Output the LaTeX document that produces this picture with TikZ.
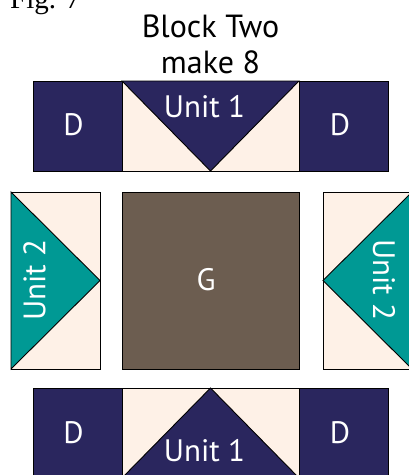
\documentclass[tikz,border=0pt]{standalone}
\usepackage{fontspec}
\setmainfont{PT Sans}
\newfontfamily\figfont{Liberation Serif}
\definecolor{navy}{RGB}{42,38,94}
\definecolor{cream}{RGB}{254,241,231}
\definecolor{teal2}{RGB}{0,153,148}
\definecolor{brownG}{RGB}{108,93,80}
\tikzset{
  patch/.style={draw=black, line width=0.9pt, line join=miter},
  lbl/.style={text=white, font=\fontsize{31}{31}\selectfont, inner sep=0pt},
  title/.style={text=black, font=\fontsize{32}{36}\selectfont, inner sep=0pt, align=center},
}
\begin{document}
\begin{tikzpicture}[x=1pt,y=-1pt]
\path[use as bounding box] (0,0) rectangle (409,475);
% caption
\node[anchor=base west, inner sep=0pt, font=\figfont\fontsize{29}{29}\selectfont] (fig) at (10,8) {Fig. 7};
\node[title, anchor=base] (t1) at (210.5,37) {Block Two};
\node[title, anchor=base] (t2) at (210.5,73) {make 8};
% top strip
\path[patch, fill=navy] (33,81) rectangle (122,171);
\path[patch, fill=cream] (122,81) rectangle (299,171);
\path[patch, fill=navy] (122,81) -- (299,81) -- (210.5,171) -- cycle;
\path[patch, fill=navy] (299,81) rectangle (388,171);
\node[lbl] (d1) at (73.5,124.5) {D};
\node[lbl] (u1) at (204.5,107) {Unit 1};
\node[lbl] (d2) at (340,124.5) {D};
% middle row
\path[patch, fill=cream] (11,192) rectangle (100,369);
\path[patch, fill=teal2] (11,192) -- (100,280.5) -- (11,369) -- cycle;
\node[lbl, rotate=90] (u2l) at (34.5,280) {Unit 2};
\path[patch, fill=brownG] (122,192) rectangle (299,369);
\node[lbl] (g) at (206,279.5) {G};
\path[patch, fill=cream] (323,192) rectangle (412,369);
\path[patch, fill=teal2] (412,192) -- (323,280.5) -- (412,369) -- cycle;
\node[lbl, rotate=-90] (u2r) at (384,280) {Unit 2};
% bottom strip
\path[patch, fill=navy] (33,388) rectangle (122,478);
\path[patch, fill=cream] (122,388) rectangle (299,478);
\path[patch, fill=navy] (122,478) -- (210.5,388) -- (299,478) -- cycle;
\path[patch, fill=navy] (299,388) rectangle (388,478);
\node[lbl] (d3) at (73.5,433) {D};
\node[lbl] (u3) at (204.5,450.5) {Unit 1};
\node[lbl] (d4) at (340,433) {D};
\end{tikzpicture}
\end{document}
